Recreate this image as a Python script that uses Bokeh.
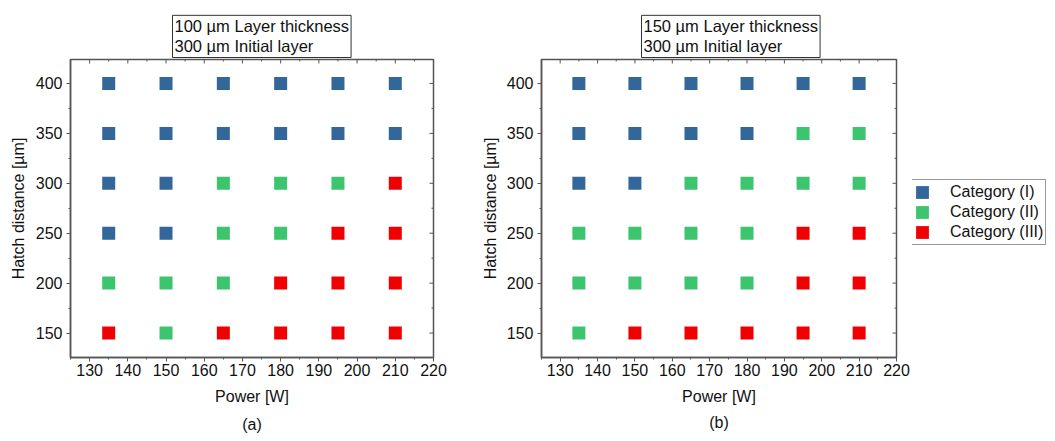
import math
from bokeh.plotting import figure
from bokeh.layouts import row
from bokeh.models import (Title, Legend, LegendItem, FixedTicker, ColumnDataSource)
from bokeh.embed import file_html
from bokeh.resources import INLINE

# ---- data ----
powers = [135, 150, 165, 180, 195, 210]
hatches = [400, 350, 300, 250, 200, 150]
# category per row (rows = hatches, top to bottom), columns = powers
cat_a = [
    [1, 1, 1, 1, 1, 1],
    [1, 1, 1, 1, 1, 1],
    [1, 1, 2, 2, 2, 3],
    [1, 1, 2, 2, 3, 3],
    [2, 2, 2, 3, 3, 3],
    [3, 2, 3, 3, 3, 3],
]
cat_b = [
    [1, 1, 1, 1, 1, 1],
    [1, 1, 1, 1, 2, 2],
    [1, 1, 2, 2, 2, 2],
    [2, 2, 2, 2, 3, 3],
    [2, 2, 2, 2, 3, 3],
    [2, 3, 3, 3, 3, 3],
]
cat_names = {1: "Category (I)", 2: "Category (II)", 3: "Category (III)"}
cat_colors = {1: "#336699", 2: "#3cc46e", 3: "#f00000"}
titles = ["100 µm Layer thickness\n300 µm Initial layer",
          "150 µm Layer thickness\n300 µm Initial layer"]
sub_labels = ["(a)", "(b)"]
x_major = [130, 140, 150, 160, 170, 180, 190, 200, 210, 220]
x_minor = [125, 135, 145, 155, 165, 175, 185, 195, 205, 215]
y_major = [150, 200, 250, 300, 350, 400]
y_minor = [125, 175, 225, 275, 325, 375, 425]
X_RANGE = (125, 220)
Y_RANGE = (125.5, 424)

FONT = "Liberation Sans"
AX = "#555555"
TXT = "#111111"


def points_of(cats, c):
    xs, ys = [], []
    for i, h in enumerate(hatches):
        for j, pw in enumerate(powers):
            if cats[i][j] == c:
                xs.append(pw)
                ys.append(h)
    return xs, ys


def style_axis(ax):
    ax.axis_line_color = AX
    ax.axis_line_width = 1.5
    ax.major_tick_line_color = AX
    ax.minor_tick_line_color = AX
    ax.major_tick_line_width = 1
    ax.minor_tick_line_width = 1
    ax.major_label_text_font = FONT
    ax.major_label_text_font_size = "16px"
    ax.major_label_text_color = TXT
    ax.axis_label_text_font = FONT
    ax.axis_label_text_font_size = "16px"
    ax.axis_label_text_font_style = "normal"
    ax.axis_label_text_color = TXT
    ax.major_tick_out = 4
    ax.major_tick_in = 0
    ax.minor_tick_out = 2
    ax.minor_tick_in = 0


def make_panel(cats, title, sub, width, bl, br, bt, bb, t_off, t_stand,
               ylab_standoff, sub_standoff):
    p = figure(width=width, height=441, x_range=X_RANGE, y_range=Y_RANGE,
               output_backend="svg", toolbar_location=None,
               min_border_left=bl, min_border_right=br,
               min_border_top=bt, min_border_bottom=bb,
               x_axis_label="Power [W]", y_axis_label="Hatch distance [µm]",
               title=title)
    p.grid.visible = False
    p.outline_line_color = AX
    p.outline_line_width = 1.5
    p.background_fill_color = "white"
    p.border_fill_color = "white"
    p.xaxis.ticker = FixedTicker(ticks=x_major, minor_ticks=x_minor)
    p.yaxis.ticker = FixedTicker(ticks=y_major, minor_ticks=y_minor)
    for ax in p.xaxis + p.yaxis:
        style_axis(ax)
    p.xaxis.major_label_standoff = 2
    p.yaxis.major_label_standoff = 4
    p.yaxis.axis_label_standoff = ylab_standoff
    p.xaxis.axis_label_standoff = 9

    # mirrored inward ticks on top and right edges
    p.ray(x=x_major, y=[Y_RANGE[1]] * len(x_major), length=4, length_units="screen",
          angle=-math.pi / 2, line_color=AX, line_width=1)
    p.ray(x=x_minor, y=[Y_RANGE[1]] * len(x_minor), length=2, length_units="screen",
          angle=-math.pi / 2, line_color=AX, line_width=1)
    p.ray(x=[X_RANGE[1]] * len(y_major), y=y_major, length=4, length_units="screen",
          angle=math.pi, line_color=AX, line_width=1)
    p.ray(x=[X_RANGE[1]] * len(y_minor), y=y_minor, length=2, length_units="screen",
          angle=math.pi, line_color=AX, line_width=1)

    for c in (1, 2, 3):
        xs, ys = points_of(cats, c)
        src = ColumnDataSource(dict(x=xs, y=ys))
        p.rect("x", "y", width=13, height=13, width_units="screen",
               height_units="screen", source=src,
               fill_color=cat_colors[c], line_color=None)

    t = p.title
    t.text_font = FONT
    t.text_font_size = "16.5px"
    t.text_font_style = "normal"
    t.text_color = TXT
    t.align = "left"
    t.offset = t_off
    t.standoff = t_stand
    t.text_line_height = 1.12
    t.border_line_color = "#333333"
    t.border_line_width = 1
    t.background_fill_color = "white"
    t.padding = 2

    st = Title(text=sub, align="center", text_font=FONT, text_font_size="16px",
               text_font_style="normal", text_color=TXT, standoff=sub_standoff)
    p.add_layout(st, "below")
    return p


pa = make_panel(cat_a, titles[0], sub_labels[0], 478, 70, 45, 57, 84, 102, 4, 6, 13)
pb = make_panel(cat_b, titles[1], sub_labels[1], 434, 59, 16, 59, 80, 100, 4, 5, 9)

# legend-only panel (its sample renderers lie outside its own 0..1 view)
pc = figure(width=143, height=441, x_range=(0, 1), y_range=(0, 1),
            output_backend="svg", toolbar_location=None,
            x_axis_location=None, y_axis_location=None,
            min_border_left=0, min_border_right=0, min_border_top=0, min_border_bottom=0)
pc.grid.visible = False
pc.outline_line_color = None
pc.border_fill_color = "white"
items = []
for c in (1, 2, 3):
    xs, ys = points_of(cat_b, c)
    r = pc.rect(x=xs, y=ys, width=13, height=13, width_units="screen",
                height_units="screen", fill_color=cat_colors[c], line_color=None)
    items.append(LegendItem(label=cat_names[c], renderers=[r]))
leg = Legend(items=items, location=(-1, 112), margin=0, padding=2,
             spacing=0, glyph_width=16, glyph_height=16, label_height=20,
             label_standoff=20, label_text_font=FONT, label_text_font_size="16px",
             label_text_color=TXT,
             border_line_color="#333333", border_line_width=1,
             background_fill_color="white")
pc.add_layout(leg, "center")

lay = row(pa, pb, pc)

open("out.html", "w").write(file_html(lay, INLINE))
